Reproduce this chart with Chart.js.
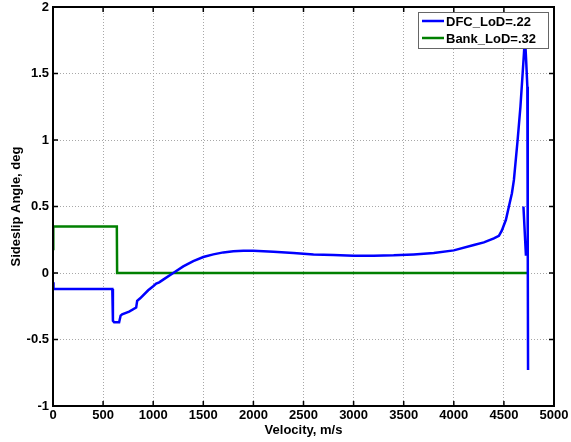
<!DOCTYPE html>
<html>
<head>
<meta charset="utf-8">
<script src="https://cdn.jsdelivr.net/npm/chart.js@4.4.0/dist/chart.umd.min.js"></script>
<style>
  html, body { margin: 0; padding: 0; background: #fff; }
  #wrap { width: 571px; height: 442px; }
</style>
</head>
<body>
<div id="wrap"><canvas id="sideslipChart" width="571" height="442"></canvas></div>
<script>
// Tick labels
const xTicks = [0, 500, 1000, 1500, 2000, 2500, 3000, 3500, 4000, 4500, 5000];
const yTicks = [-1, -0.5, 0, 0.5, 1, 1.5, 2];

// DFC_LoD=.22
const velocityDFC = [0, 5, 585, 592, 598, 610, 660, 675, 690, 760, 830, 840, 870, 950, 1000, 1030, 1060,
  1100, 1200, 1300, 1400, 1500, 1600, 1700, 1800, 1900, 2000, 2200, 2400, 2600, 2800, 3000, 3200,
  3400, 3600, 3800, 4000, 4200, 4300, 4400, 4450, 4480, 4520, 4550, 4580, 4600, 4637, 4665, 4687,
  4700, 4710, 4722, 4734, 4737, 4739, 4741, 4741, 4695, 4720];
const sideslipDFC = [-0.07, -0.12, -0.12, -0.12, -0.36, -0.37, -0.37, -0.32, -0.31, -0.29, -0.26, -0.21, -0.19, -0.13, -0.10, -0.08, -0.07,
  -0.05, 0.0, 0.05, 0.09, 0.12, 0.14, 0.155, 0.163, 0.167, 0.167, 0.16, 0.15, 0.14, 0.135, 0.13, 0.13,
  0.133, 0.14, 0.15, 0.17, 0.21, 0.23, 0.26, 0.28, 0.32, 0.40, 0.50, 0.60, 0.70, 1.0, 1.25, 1.5,
  1.65, 1.78, 1.6, 1.4, 0.8, 0.2, -0.73, null, 0.5, 0.13];

// Bank_LoD=.32
const velocityBank = [0, 3, 637, 640, 4738];
const sideslipBank = [0.18, 0.35, 0.35, 0.0, 0.0];

const FONT = { family: "'Liberation Sans', Arial, Helvetica, sans-serif", weight: "bold", size: 13 };

const toPoints = (xs, ys) => xs.map((x, i) => ({ x, y: ys[i] }));

// Caixa, marcas internas e legenda no estilo MATLAB
const matlabFrame = {
  id: "matlabFrame",
  afterDatasetsDraw(chart) {
    const { ctx, chartArea: a, scales } = chart;
    const tick = 5;
    ctx.save();
    ctx.strokeStyle = "#000";
    ctx.lineWidth = 1.5;
    ctx.beginPath();
    xTicks.forEach(v => {
      const px = scales.x.getPixelForValue(v);
      ctx.moveTo(px, a.bottom); ctx.lineTo(px, a.bottom - tick);
      ctx.moveTo(px, a.top); ctx.lineTo(px, a.top + tick);
    });
    yTicks.forEach(v => {
      const py = scales.y.getPixelForValue(v);
      ctx.moveTo(a.left, py); ctx.lineTo(a.left + tick, py);
      ctx.moveTo(a.right, py); ctx.lineTo(a.right - tick, py);
    });
    ctx.stroke();
    ctx.lineWidth = 2;
    ctx.strokeRect(a.left, a.top, a.right - a.left, a.bottom - a.top);

    // legenda
    const lx = 418, ly = 12, lw = 130, lh = 36;
    ctx.fillStyle = "#fff";
    ctx.fillRect(lx, ly, lw, lh);
    ctx.strokeStyle = "#666";
    ctx.lineWidth = 1;
    ctx.strokeRect(lx + 0.5, ly + 0.5, lw, lh);
    ctx.font = `${FONT.weight} ${FONT.size}px ${FONT.family}`;
    ctx.textBaseline = "middle";
    chart.data.datasets.forEach((ds, i) => {
      const yy = ly + 9 + i * 17;
      ctx.strokeStyle = ds.borderColor;
      ctx.lineWidth = 2.5;
      ctx.beginPath();
      ctx.moveTo(lx + 4, yy); ctx.lineTo(lx + 26, yy);
      ctx.stroke();
      ctx.fillStyle = "#000";
      ctx.fillText(ds.label, lx + 28, yy + 1);
    });
    ctx.restore();
  }
};

const gridStyle = {
  color: "#a8a8a8",
  lineWidth: 1,
  drawTicks: false
};

new Chart(document.getElementById("sideslipChart"), {
  type: "line",
  data: {
    datasets: [
      {
        label: "DFC_LoD=.22",
        data: toPoints(velocityDFC, sideslipDFC),
        borderColor: "#0000ff",
        borderWidth: 2.5,
        pointRadius: 0,
        fill: false,
        tension: 0,
        spanGaps: false
      },
      {
        label: "Bank_LoD=.32",
        data: toPoints(velocityBank, sideslipBank),
        borderColor: "#008000",
        borderWidth: 2.5,
        pointRadius: 0,
        fill: false,
        tension: 0
      }
    ]
  },
  options: {
    responsive: false,
    animation: false,
    layout: { padding: { top: 7, right: 17, left: 0, bottom: 0 } },
    plugins: {
      legend: { display: false },
      tooltip: { enabled: false }
    },
    scales: {
      x: {
        type: "linear",
        min: 0,
        max: 5000,
        afterBuildTicks: s => { s.ticks = xTicks.map(value => ({ value })); },
        afterFit: s => { s.height = 36; s.paddingLeft = 0; s.paddingRight = 0; },
        ticks: { color: "#000", font: FONT, padding: 2, maxRotation: 0, autoSkip: false, callback: v => String(v) },
        grid: gridStyle,
        border: { display: true, color: "rgba(0,0,0,0)", dash: [1, 2] },
        title: { display: true, text: "Velocity, m/s", color: "#000", font: FONT, padding: { top: 0, bottom: 4 } }
      },
      y: {
        type: "linear",
        min: -1,
        max: 2,
        afterBuildTicks: s => { s.ticks = yTicks.map(value => ({ value })); },
        afterFit: s => { s.width = 53; s.paddingTop = 0; s.paddingBottom = 0; },
        ticks: { color: "#000", font: FONT, padding: 4, autoSkip: false, callback: v => String(v) },
        grid: gridStyle,
        border: { display: true, color: "rgba(0,0,0,0)", dash: [1, 2] },
        title: { display: true, text: "Sideslip Angle, deg", color: "#000", font: FONT, padding: { top: 9, bottom: 0 } }
      }
    }
  },
  plugins: [matlabFrame]
});
</script>
</body>
</html>
